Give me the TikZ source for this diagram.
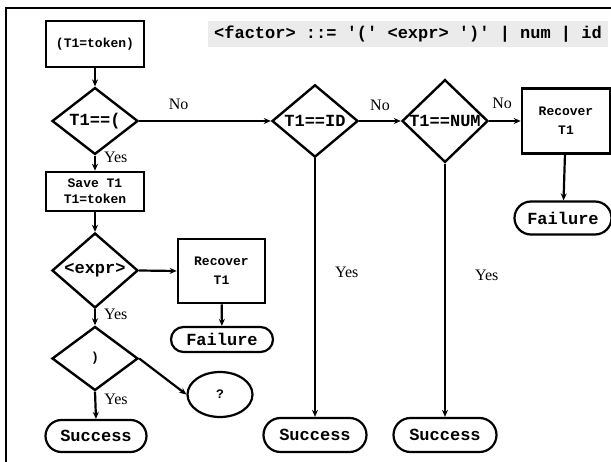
\documentclass[tikz,border=0pt]{standalone}
\usepackage{fontspec}
\setmainfont{Liberation Serif}
\setmonofont{Liberation Mono}
\usetikzlibrary{arrows.meta,shapes.geometric,shapes.misc}
\newcommand{\bigtt}{\fontsize{17}{19}\selectfont\ttfamily\bfseries}
\newcommand{\smalltt}{\fontsize{13}{16}\selectfont\ttfamily\bfseries}
\begin{document}
\begin{tikzpicture}[x=1pt,y=-1pt,
    box/.style={draw,line width=2.6pt,rectangle,inner sep=0pt,align=center,font=\smalltt},
    test/.style={draw,line width=2.4pt,diamond,inner sep=0pt,minimum width=86pt,minimum height=64pt,font=\bigtt},
    term/.style={draw,line width=2.2pt,rounded rectangle,inner sep=0pt,font=\bigtt},
    flow/.style={line width=2.2pt,-{Stealth[length=7pt,width=6pt]}},
    lbl/.style={font=\fontsize{16}{18}\selectfont,inner sep=2pt}]
        \useasboundingbox (0,0) rectangle (611,462);
        \draw[line width=2pt] (5.5,8.5) rectangle (640,490);
        \node[fill=black!8,inner sep=0pt,minimum width=400pt,minimum height=26pt,font=\bigtt] (grammar) at (408,34) {<factor> ::= '(' <expr> ')' | num | id};
        % left column
        \node[box,minimum width=98pt,minimum height=46pt] (tok) at (95,44) {(T1=token)};
        \node[test] (isparen) at (95,121) {T1==(};
        \node[box,minimum width=98pt,minimum height=39pt] (save) at (95,191.5) {Save T1\\T1=token};
        \node[test] (expr) at (95,270.5) {<expr>};
        \node[box,minimum width=87pt,minimum height=64pt] (recexpr) at (221.5,271) {Recover\\[3pt]T1};
        \node[term,minimum width=102pt,minimum height=25pt] (failexpr) at (222,339.5) {Failure};
        \node[test,font=\smalltt] (close) at (95,358.5) {)};
        \node[draw,line width=2.2pt,ellipse,inner sep=0pt,minimum width=65pt,minimum height=45pt,font=\smalltt] (unknown) at (220,394.5) {?};
        \node[term,minimum width=101pt,minimum height=32pt] (succparen) at (96,436) {Success};
        % right part
        \node[test] (isid) at (315,121) {T1==ID};
        \node[test] (isnum) at (445,121) {T1==NUM};
        \node[box,minimum width=88pt,minimum height=65pt] (recnum) at (566,121) {Recover\\[3pt]T1};
        \node[term,minimum width=97pt,minimum height=33pt] (failnum) at (563,218) {Failure};
        \node[term,minimum width=103pt,minimum height=34pt] (succid) at (315,435) {Success};
        \node[term,minimum width=103pt,minimum height=34pt] (succnum) at (445,435) {Success};
        % connectors
        \draw[flow] (tok) -- (isparen);
        \draw[flow] (isparen) -- (save) node[lbl,pos=0.1,anchor=west,xshift=6pt] {Yes};
        \draw[flow] (isparen.east) -- (isid.west) node[lbl,pos=0.3,above=8pt] {No};
        \draw[flow] (isid.east) -- (isnum.west) node[lbl,pos=0.5,above=7pt] {No};
        \draw[flow] (isnum.east) -- (recnum.west) node[lbl,pos=0.41,above=9pt] {No};
        \draw[flow] (recnum) -- (failnum);
        \draw[flow] (isid.south) -- (succid.north) node[lbl,pos=0.44,right=17pt] {Yes};
        \draw[flow] (isnum.south) -- (succnum.north) node[lbl,pos=0.44,right=27pt] {Yes};
        \draw[flow] (save) -- (expr);
        \draw[flow] (expr.east) -- (recexpr.west);
        \draw[flow] (recexpr) -- (failexpr);
        \draw[flow] (expr.south) -- (close.north) node[lbl,pos=0.32,anchor=west,xshift=6pt] {Yes};
        \draw[flow] (close.east) -- (unknown.west);
        \draw[flow] (close.south) -- (succparen.north) node[lbl,pos=0.27,anchor=west,xshift=6pt] {Yes};
\end{tikzpicture}
\end{document}
